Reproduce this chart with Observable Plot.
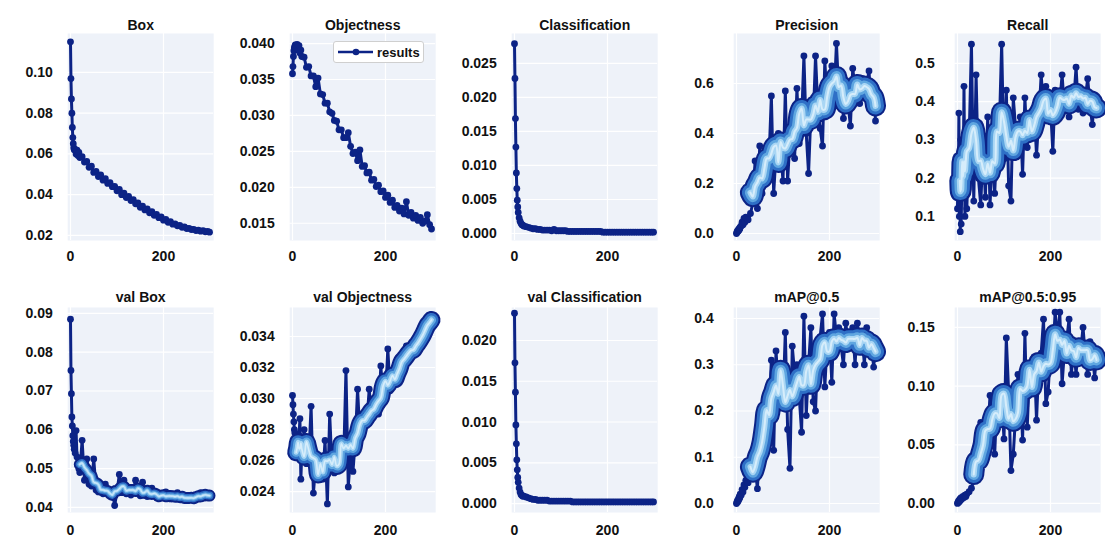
<!DOCTYPE html>
<html><head><meta charset="utf-8">
<script src="https://cdn.jsdelivr.net/npm/d3@7"></script>
<script src="https://cdn.jsdelivr.net/npm/@observablehq/plot@0.6"></script>
<style>
body{margin:0;background:#fff;font-family:"Liberation Sans",Arial,sans-serif;}
#wrap{position:relative;width:1105px;height:549px;overflow:hidden;}
.cell{position:absolute;}
.legend{position:absolute;left:333px;top:41px;width:91px;height:22px;border:1px solid #cfcfcf;border-radius:3px;background:rgba(255,255,255,0.95);box-sizing:border-box;}
.legend svg{position:absolute;left:3px;top:4px;}
.legend span{position:absolute;left:43px;top:3px;font:bold 13px "Liberation Sans",Arial,sans-serif;color:#111;}
</style></head><body><div id="wrap"></div>
<script>
// epochs at which values were read
const epochs = [0,1,2,3,4,5,6,7,8,10,12,14,16,18,20,
25,30,35,40,45,50,55,60,65,70,75,80,85,90,95,100,105,110,115,120,125,130,135,140,145,150,
155,160,165,170,175,180,185,190,195,200,205,210,215,220,225,230,235,240,245,250,255,260,265,270,
275,280,285,290,295,299];

const boxLoss = [0.115,0.097,0.087,0.080,0.073,0.068,0.065,0.063,0.062,
0.0622,0.0600,0.0618,0.0592,0.0608,0.0582,
0.0586,0.0560,0.0563,0.0534,0.0540,0.0509,0.0514,0.0489,0.0497,0.0471,
0.0478,0.0455,0.0459,0.0439,0.0441,0.0419,0.0426,0.0400,0.0408,0.0386,
0.0391,0.0371,0.0376,0.0355,0.0360,0.0338,0.0343,0.0325,0.0330,0.0311,
0.0316,0.0299,0.0303,0.0287,0.0291,0.0275,0.0278,0.0264,0.0267,0.0255,
0.0257,0.0247,0.0249,0.0240,0.0242,0.0234,0.0235,0.0229,0.0230,0.0224,
0.0226,0.0221,0.0223,0.0218,0.0220,0.0216];

const objLoss = [0.0358,0.0368,0.0382,0.0390,0.0394,0.0396,0.0398,0.0395,0.0397,
0.0399,0.0391,0.0397,0.0387,0.0391,0.0382,
0.0381,0.0367,0.0368,0.0355,0.0355,0.0340,0.0352,0.0330,0.0329,0.0317,
0.0317,0.0305,0.0303,0.0293,0.0292,0.0280,0.0280,0.0269,0.0269,0.0276,
0.0257,0.0247,0.0249,0.0237,0.0252,0.0229,0.0230,0.0220,0.0221,0.0210,
0.0211,0.0201,0.0203,0.0194,0.0195,0.0186,0.0189,0.0179,0.0182,0.0172,
0.0175,0.0167,0.0171,0.0163,0.0180,0.0161,0.0165,0.0157,0.0161,0.0154,
0.0158,0.0150,0.0153,0.0162,0.0148,0.0142];

const clsLoss = [0.0279,0.0228,0.0169,0.0127,0.0089,0.0066,0.0049,0.0039,0.0031,
0.0023,0.0018,0.0015,0.0013,0.0012,0.0011,
0.0010,0.0009,0.0008,0.0007,0.0007,0.0006,0.0006,0.0005,0.0005,0.0005,
0.0005,0.0004,0.0006,0.0004,0.0004,0.0004,0.0004,0.0004,0.0003,0.0003,
0.0003,0.0003,0.0003,0.0003,0.0003,0.0003,0.0003,0.0003,0.0003,0.0003,
0.0003,0.0003,0.0003,0.0002,0.0002,0.0002,0.0002,0.0002,0.0002,0.0002,
0.0002,0.0002,0.0002,0.0002,0.0002,0.0002,0.0002,0.0002,0.0002,0.0002,
0.0002,0.0002,0.0002,0.0002,0.0002,0.0002];

const precision = [0.000,0.005,0.010,0.008,0.015,0.012,0.020,0.018,0.025,
0.030,0.045,0.035,0.060,0.045,0.065,
0.055,0.080,0.120,0.290,0.100,0.350,0.160,0.220,0.270,0.300,
0.550,0.160,0.320,0.400,0.330,0.210,0.570,0.210,0.380,0.420,
0.300,0.580,0.360,0.450,0.710,0.400,0.240,0.480,0.450,0.710,
0.500,0.420,0.350,0.690,0.520,0.500,0.670,0.550,0.760,0.560,
0.600,0.460,0.580,0.520,0.430,0.660,0.580,0.600,0.520,0.620,
0.560,0.600,0.650,0.500,0.580,0.450];

const recall = [0.12,0.25,0.19,0.37,0.10,0.22,0.06,0.30,0.08,
0.25,0.15,0.44,0.10,0.28,0.12,
0.30,0.55,0.14,0.47,0.20,0.13,0.28,0.15,0.36,0.13,
0.27,0.16,0.30,0.33,0.55,0.25,0.43,0.18,0.14,0.41,
0.33,0.30,0.36,0.21,0.41,0.28,0.36,0.33,0.38,0.26,
0.36,0.47,0.38,0.44,0.36,0.39,0.27,0.43,0.37,0.40,
0.47,0.38,0.41,0.36,0.42,0.40,0.49,0.38,0.42,0.37,
0.41,0.46,0.39,0.34,0.41,0.40];

const valBox = [0.0885,0.0753,0.0693,0.0633,0.0610,0.0585,0.0570,0.0560,0.0550,
0.0540,0.0598,0.0530,0.0510,0.0500,0.0490,
0.0573,0.0470,0.0525,0.0460,0.0455,0.0525,0.0445,0.0440,0.0450,0.0435,
0.0460,0.0440,0.0432,0.0445,0.0405,0.0440,0.0485,0.0438,0.0470,0.0435,
0.0442,0.0432,0.0445,0.0470,0.0435,0.0430,0.0465,0.0432,0.0428,0.0440,
0.0450,0.0430,0.0425,0.0435,0.0428,0.0425,0.0440,0.0428,0.0422,0.0432,
0.0425,0.0438,0.0422,0.0428,0.0420,0.0430,0.0424,0.0420,0.0428,0.0422,
0.0425,0.0438,0.0432,0.0425,0.0435,0.0432];

const valObj = [0.0302,0.0296,0.0290,0.0285,0.0280,0.0278,0.0274,0.0270,0.0268,
0.0266,0.0262,0.0276,0.0287,0.0248,0.0265,
0.0280,0.0258,0.0262,0.0295,0.0239,0.0258,0.0254,0.0256,0.0248,0.0273,
0.0232,0.0290,0.0255,0.0252,0.0258,0.0256,0.0262,0.0260,0.0318,0.0243,
0.0265,0.0253,0.0272,0.0306,0.0276,0.0280,0.0282,0.0285,0.0306,0.0287,
0.0290,0.0293,0.0290,0.0321,0.0298,0.0300,0.0332,0.0305,0.0308,0.0312,
0.0317,0.0320,0.0322,0.0325,0.0334,0.0326,0.0330,0.0332,0.0333,0.0336,
0.0338,0.0340,0.0344,0.0346,0.0352,0.0354];

const valCls = [0.02335,0.01726,0.01366,0.00965,0.00732,0.00536,0.00413,0.0032,0.0026,
0.0019,0.0014,0.0011,0.0010,0.0009,0.0009,
0.0008,0.0007,0.0006,0.0005,0.0005,0.0004,0.0004,0.0004,0.0004,0.0004,
0.0003,0.0003,0.0003,0.0003,0.0003,0.0003,0.0003,0.0003,0.0003,0.0003,
0.0002,0.0002,0.0002,0.0002,0.0002,0.0002,0.0002,0.0002,0.0002,0.0002,
0.0002,0.0002,0.0002,0.0002,0.0002,0.0002,0.0002,0.0002,0.0002,0.0002,
0.0002,0.0002,0.0002,0.0002,0.0002,0.0002,0.0002,0.0002,0.0002,0.0002,
0.0002,0.0002,0.0002,0.0002,0.0002,0.0002];

const map50 = [0.000,0.003,0.006,0.004,0.010,0.008,0.015,0.012,0.020,
0.018,0.030,0.025,0.040,0.035,0.050,
0.045,0.068,0.090,0.080,0.032,0.130,0.170,0.150,0.180,0.200,
0.310,0.115,0.330,0.250,0.270,0.220,0.370,0.160,0.076,0.340,
0.280,0.300,0.230,0.154,0.405,0.190,0.300,0.380,0.220,0.200,
0.340,0.360,0.410,0.252,0.350,0.370,0.262,0.410,0.360,0.380,
0.340,0.300,0.390,0.350,0.360,0.380,0.300,0.390,0.350,0.370,
0.300,0.380,0.360,0.350,0.295,0.340];

const map5095 = [0.000,0.001,0.002,0.001,0.003,0.002,0.004,0.003,0.005,
0.004,0.006,0.005,0.007,0.006,0.008,
0.010,0.013,0.020,0.024,0.030,0.069,0.040,0.050,0.060,0.092,
0.075,0.042,0.090,0.085,0.092,0.055,0.141,0.095,0.028,0.042,
0.075,0.110,0.105,0.054,0.145,0.065,0.115,0.120,0.125,0.071,
0.120,0.128,0.157,0.085,0.095,0.130,0.125,0.163,0.140,0.163,
0.102,0.130,0.140,0.157,0.110,0.135,0.110,0.138,0.130,0.150,
0.125,0.110,0.138,0.130,0.107,0.130];

const titles = ["Box","Objectness","Classification","Precision","Recall",
  "val Box","val Objectness","val Classification","mAP@0.5","mAP@0.5:0.95"];
const series = [boxLoss,objLoss,clsLoss,precision,recall,valBox,valObj,valCls,map50,map5095];
const yTicks = [
  [0.02,0.04,0.06,0.08,0.10],
  [0.015,0.020,0.025,0.030,0.035,0.040],
  [0,0.005,0.010,0.015,0.020,0.025],
  [0,0.2,0.4,0.6],
  [0.1,0.2,0.3,0.4,0.5],
  [0.04,0.05,0.06,0.07,0.08,0.09],
  [0.024,0.026,0.028,0.030,0.032,0.034],
  [0,0.005,0.010,0.015,0.020],
  [0,0.1,0.2,0.3,0.4],
  [0,0.05,0.10,0.15]
];
const yFormats = [".2f",".3f",".3f",".1f",".1f",".2f",".3f",".3f",".1f",".2f"];
const xTicks = [0,200];

// ---- layout / styling (not data) ----
const yDomains = [[0.0175,0.1191],[0.0126,0.0414],[-0.00103,0.0294],[-0.028,0.80],[0.037,0.578],
  [0.0387,0.0915],[0.02265,0.03587],[-0.0011,0.02405],[-0.0195,0.4238],[-0.0077,0.167]];
const glow = [null,null,null,{from:30,w:17},{from:5,w:17},{from:20,w:8},{from:8,w:14},null,{from:30,w:17},{from:35,w:17}];
const X0 = [70,292,514,736,957];
const rows = [{top:0,h:275,aTop:33,aBot:240,tDy:-13,xPad:11},{top:275,h:274,aTop:32,aBot:237,tDy:-15,xPad:13}];
const navy = "#0c2386";

const wrap = document.getElementById("wrap");
series.forEach((vals,i)=>{
  const col=i%5,row=Math.floor(i/5),R=rows[row];
  const left = col*221, W = 221;
  const mL = X0[col]-2.8-left;
  const data = epochs.map((e,j)=>({e, v: vals[j]}));
  const marks = [
    Plot.frame({fill:"#eef2f9", stroke:null}),
    Plot.gridY(yTicks[i], {stroke:"#ffffff", strokeOpacity:1, strokeWidth:1.2}),
    Plot.gridX(xTicks, {stroke:"#ffffff", strokeOpacity:1, strokeWidth:1.2}),
    Plot.axisY(yTicks[i], {tickSize:0, tickPadding: col<3?15:20, tickFormat:d3.format(yFormats[i]), label:null}),
    Plot.axisX(xTicks, {tickSize:0, tickPadding:R.xPad, label:null}),
    Plot.line(data, {x:"e", y:"v", stroke:navy, strokeWidth:3}),
    Plot.dot(data, {x:"e", y:"v", fill:navy, r:3.4, stroke:null})
  ];
  if (glow[i]) {
    const g = glow[i];
    const sub = data.filter(d=>d.e>=g.from);
    const w = (width, color, op) => Plot.line(sub, Plot.windowY({k:5, reduce:"mean", x:"e", y:"v",
      stroke:color, strokeWidth:width, strokeOpacity:op, strokeLinecap:"round", strokeLinejoin:"round", curve:"catmull-rom"}));
    marks.push(
      w(g.w+4, navy, 1),
      w(g.w, "#2e6fc6", 1),
      w(g.w*0.65, "#5fa6e0", 1),
      w(g.w*0.35, "#a9d6f4", 1),
      w(g.w*0.12, "#d6edfb", 1)
    );
  }
  marks.push(Plot.text([titles[i]], {text:d=>d, frameAnchor:"top", dy:R.tDy, fontSize:14, fontWeight:"bold", fill:"#111"}));
  const chart = Plot.plot({
    width: W, height: R.h,
    marginLeft: mL, marginRight: W - mL - 146,
    marginTop: R.aTop, marginBottom: R.h - R.aBot,
    x: {domain:[-6,308]},
    y: {domain: yDomains[i]},
    style: {fontSize:"14px", fontWeight:"bold", fontFamily:'"Liberation Sans", Arial, sans-serif', color:"#111", background:"transparent", overflow:"visible"},
    marks
  });
  const cell = document.createElement("div");
  cell.className = "cell";
  cell.style.left = left+"px"; cell.style.top = R.top+"px";
  cell.appendChild(chart);
  wrap.appendChild(cell);
});

// legend in Objectness panel
const lg = document.createElement("div");
lg.className = "legend";
lg.innerHTML = '<svg width="38" height="12"><line x1="1" y1="6" x2="36" y2="6" stroke="'+navy+'" stroke-width="2.6"/><circle cx="19" cy="6" r="3.3" fill="'+navy+'"/></svg><span>results</span>';
wrap.appendChild(lg);
</script>
</body></html>
